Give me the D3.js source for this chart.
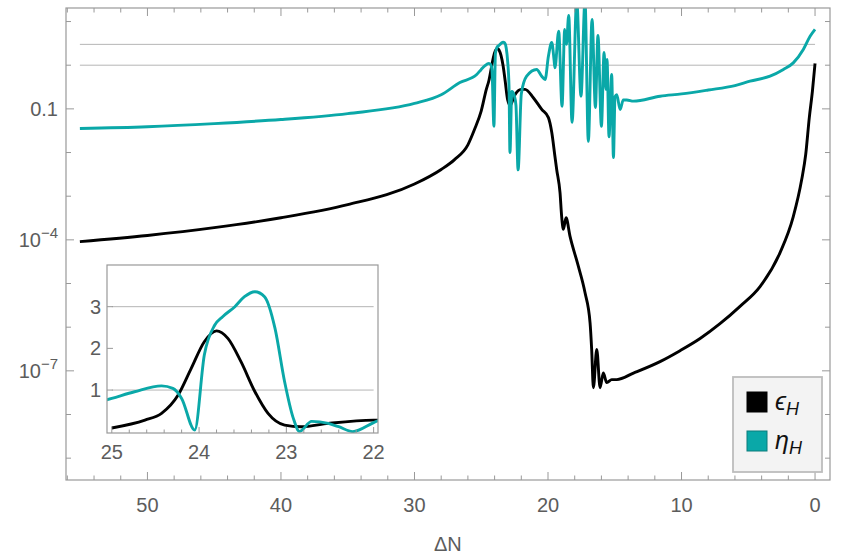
<!DOCTYPE html>
<html>
<head>
<meta charset="utf-8">
<script src="https://d3js.org/d3.v7.min.js"></script>
<style>
  body { margin: 0; background: #fff; }
  text { font-family: "Liberation Sans", Arial, sans-serif; fill: #5c5c5c; }
</style>
</head>
<body>
<div id="chart"></div>
<script>
"use strict"

// epsilon_H : [deltaN, value]
var epsilonH = [
  [55.06, 9.1e-5], [50, 1.26e-4], [45, 1.9e-4], [40, 3.2e-4], [35, 6.4e-4],
  [30, 1.9e-3], [28, 4.1e-3], [27, 6.9e-3], [26, 0.015], [25.5, 0.034],
  [25.0, 0.09], [24.62, 0.28], [24.43, 0.44], [24.24, 0.88], [24.09, 1.52],
  [23.94, 2.16], [23.80, 2.42], [23.67, 2.24], [23.52, 1.68], [23.36, 0.96],
  [23.21, 0.44], [23.02, 0.16], [22.83, 0.12], [22.52, 0.2], [22.0, 0.28],
  [21.72, 0.28], [21.1, 0.18], [20.47, 0.097], [19.97, 0.063], [19.72, 0.029],
  [19.48, 8.1e-3], [19.35, 4.1e-3], [19.1, 1.2e-3], [18.98, 3.5e-4], [18.85, 1.74e-4],
  [18.65, 3.2e-4], [18.35, 1.2e-4], [17.73, 2.5e-5], [17.23, 6.2e-6], [16.85, 1.26e-6],
  [16.73, 3.1e-7], [16.6, 4.1e-8], [16.35, 3.1e-7], [16.1, 4.1e-8], [15.86, 8.9e-8],
  [15.6, 5.4e-8], [15.23, 6.3e-8], [14.85, 6.3e-8], [13.6, 8.9e-8], [11.61, 1.63e-7],
  [10.11, 2.9e-7], [8.61, 5.5e-7], [7.12, 1.2e-6], [5.62, 3.0e-6], [4.12, 8.5e-6],
  [2.62, 5.1e-5], [1.63, 3.4e-4], [1.0, 2.4e-3], [0.7, 9e-3], [0.43, 0.063],
  [0.2, 0.25], [0, 1.1]
];

// eta_H : [deltaN, value]
var etaH = [
  [55.06, 0.0355], [50, 0.039], [45, 0.046], [40, 0.057], [35, 0.078],
  [30, 0.133], [28, 0.21], [26.6, 0.40], [25.34, 0.61], [25.0, 0.80],
  [24.74, 0.96], [24.43, 1.10], [24.30, 1.04], [24.20, 0.80], [24.05, 0.04],
  [23.94, 1.84], [23.82, 2.56], [23.73, 2.76], [23.59, 3.0], [23.48, 3.24],
  [23.36, 3.36], [23.25, 3.24], [23.13, 2.48], [23.02, 1.2], [22.92, 0.32],
  [22.85, 0.01], [22.71, 0.25], [22.52, 0.2], [22.4, 0.12], [22.24, 0.004],
  [22.0, 0.22], [21.6, 0.56], [20.85, 0.8], [20.47, 0.56], [20.22, 0.47],
  [19.97, 1.6], [19.72, 3.3], [19.55, 1.35], [19.48, 0.87], [19.2, 6.0],
  [18.95, 0.115], [18.75, 6.6], [18.62, 3.0], [18.45, 13.8], [18.2, 0.049],
  [17.85, 30], [17.53, 0.195], [17.23, 30], [16.98, 0.018], [16.7, 11.2],
  [16.45, 0.107], [16.26, 4.8], [16.0, 0.04], [15.8, 1.95], [15.66, 0.28],
  [15.58, 1.35], [15.43, 0.023], [15.23, 0.61], [15.1, 0.0077], [14.98, 0.19],
  [14.85, 0.21], [14.6, 0.097], [14.36, 0.16], [14.1, 0.16], [13.6, 0.15],
  [11.6, 0.195], [10, 0.22], [8, 0.27], [6, 0.34], [4.87, 0.43],
  [3.37, 0.56], [2.37, 0.8], [1.63, 1.13], [0.88, 2.3], [0.37, 4.6], [0, 6.6]
];

var xTicks = [50, 40, 30, 20, 10, 0];
var yTickExp = [-1, -4, -7];
var gridLines = [1, 3];
var insetXTicks = [25, 24, 23, 22];
var insetYTicks = [1, 2, 3];
var seriesNames = ["ϵ", "η"];
var seriesColors = ["#000000", "#0aa8a8"];

var W = 842, H = 559;
var L = 66, R = 830, T = 8, B = 480;
var frameCol = "#999";
var fs = 20;
var lw = 2.9;

var svg = d3.select("#chart").append("svg").attr("width", W).attr("height", H);

var x = d3.scaleLinear().domain([56.1, -1.12]).range([L, R]);
var y = d3.scaleLog().domain([Math.pow(10, -9.5), Math.pow(10, 1.31)]).range([B, T]);

svg.append("clipPath").attr("id", "clipMain")
  .append("rect").attr("x", L).attr("y", T).attr("width", R - L).attr("height", B - T);

// gridlines
svg.selectAll(".grid").data(gridLines).enter().append("line")
  .attr("x1", x(55.06)).attr("x2", x(0))
  .attr("y1", d => y(d)).attr("y2", d => y(d))
  .attr("stroke", "#b5b5b5").attr("stroke-width", 1);

var lineMain = d3.line()
  .x(d => x(d[0])).y(d => y(d[1]))
  .curve(d3.curveMonotoneX);

var gMain = svg.append("g").attr("clip-path", "url(#clipMain)");
gMain.append("path").datum(epsilonH).attr("d", lineMain)
  .attr("fill", "none").attr("stroke", seriesColors[0]).attr("stroke-width", lw);
gMain.append("path").datum(etaH).attr("d", lineMain)
  .attr("fill", "none").attr("stroke", seriesColors[1]).attr("stroke-width", lw);

// frame
svg.append("rect").attr("x", L).attr("y", T).attr("width", R - L).attr("height", B - T)
  .attr("fill", "none").attr("stroke", frameCol).attr("stroke-width", 1.2);

// x ticks (bottom + top)
d3.range(0, 57, 2).forEach(function(v) {
  var major = v % 10 === 0;
  var len = major ? 8 : 4.5;
  svg.append("line").attr("x1", x(v)).attr("x2", x(v)).attr("y1", B).attr("y2", B - len)
    .attr("stroke", frameCol);
  svg.append("line").attr("x1", x(v)).attr("x2", x(v)).attr("y1", T).attr("y2", T + len)
    .attr("stroke", frameCol);
});
svg.selectAll(".xl").data(xTicks).enter().append("text")
  .attr("x", d => x(d)).attr("y", 512).attr("text-anchor", "middle")
  .attr("font-size", fs).text(d => d);

svg.append("text").attr("x", x(27.5)).attr("y", 551).attr("text-anchor", "middle")
  .attr("font-size", fs).text("ΔN");

// y ticks (left + right)
d3.range(-9, 2).forEach(function(e) {
  var major = yTickExp.indexOf(e) >= 0;
  var len = major ? 8 : 5;
  var yy = y(Math.pow(10, e));
  svg.append("line").attr("x1", L).attr("x2", L + len).attr("y1", yy).attr("y2", yy).attr("stroke", frameCol);
  svg.append("line").attr("x1", R).attr("x2", R - len).attr("y1", yy).attr("y2", yy).attr("stroke", frameCol);
});
yTickExp.forEach(function(e) {
  var yy = y(Math.pow(10, e));
  var t = svg.append("text").attr("x", 58).attr("y", yy + 7).attr("text-anchor", "end").attr("font-size", fs);
  if (e === -1) {
    t.text("0.1");
  } else {
    t.append("tspan").text("10");
    t.append("tspan").attr("font-size", 15).attr("dy", -9).text("−" + (-e));
  }
});

// inset
var iL = 107, iR = 378, iT = 265, iB = 433;
var xi = d3.scaleLinear().domain([25.055, 21.95]).range([iL, iR]);
var yi = d3.scaleLinear().domain([-0.03, 4.0]).range([iB, iT]);

var gi = svg.append("g");
gi.append("rect").attr("x", iL).attr("y", iT).attr("width", iR - iL).attr("height", iB - iT)
  .attr("fill", "#fff");
gi.append("clipPath").attr("id", "clipInset")
  .append("rect").attr("x", iL).attr("y", iT).attr("width", iR - iL).attr("height", iB - iT);

gi.selectAll(".ig").data(gridLines).enter().append("line")
  .attr("x1", xi(25)).attr("x2", xi(22))
  .attr("y1", d => yi(d)).attr("y2", d => yi(d))
  .attr("stroke", "#b5b5b5").attr("stroke-width", 1);

var lineInset = d3.line()
  .x(d => xi(d[0])).y(d => yi(d[1]))
  .curve(d3.curveMonotoneX);
var inRange = d => d[0] <= 25.4 && d[0] >= 21.6;
var gic = gi.append("g").attr("clip-path", "url(#clipInset)");
gic.append("path").datum(epsilonH.filter(inRange)).attr("d", lineInset)
  .attr("fill", "none").attr("stroke", seriesColors[0]).attr("stroke-width", lw);
gic.append("path").datum(etaH.filter(inRange)).attr("d", lineInset)
  .attr("fill", "none").attr("stroke", seriesColors[1]).attr("stroke-width", lw);

gi.append("rect").attr("x", iL).attr("y", iT).attr("width", iR - iL).attr("height", iB - iT)
  .attr("fill", "none").attr("stroke", frameCol).attr("stroke-width", 1.2);

d3.range(0, 16).forEach(function(i) {
  var v = 25 - i * 0.2;
  var major = i % 5 === 0;
  gi.append("line").attr("x1", xi(v)).attr("x2", xi(v)).attr("y1", iB).attr("y2", iB - (major ? 6 : 3.5))
    .attr("stroke", frameCol);
});
insetYTicks.forEach(function(v) {
  gi.append("line").attr("x1", iL).attr("x2", iL + 6).attr("y1", yi(v)).attr("y2", yi(v)).attr("stroke", frameCol);
});
gi.selectAll(".ixl").data(insetXTicks).enter().append("text")
  .attr("x", d => xi(d)).attr("y", 459).attr("text-anchor", "middle")
  .attr("font-size", fs).text(d => d);
gi.selectAll(".iyl").data(insetYTicks).enter().append("text")
  .attr("x", 101).attr("y", d => yi(d) + 7).attr("text-anchor", "end")
  .attr("font-size", fs).text(d => d);

// legend
var lg = svg.append("g");
lg.append("rect").attr("x", 733).attr("y", 377).attr("width", 89).attr("height", 95)
  .attr("fill", "#f3f3f3").attr("stroke", "#bdbdbd").attr("stroke-width", 1.8);
seriesNames.forEach(function(name, i) {
  var yy = 392 + i * 39;
  lg.append("rect").attr("x", 747).attr("y", yy).attr("width", 20).attr("height", 20)
    .attr("fill", seriesColors[i])
    .attr("stroke", i === 0 ? "#000" : "#0b7d7d").attr("stroke-width", 1);
  var t = lg.append("text").attr("x", 775).attr("y", yy + 18)
    .attr("font-size", 25).attr("font-style", "italic").style("fill", "#111");
  t.append("tspan").text(name);
  t.append("tspan").attr("font-size", 18).attr("dy", 5).text("H");
});
</script>
</body>
</html>
